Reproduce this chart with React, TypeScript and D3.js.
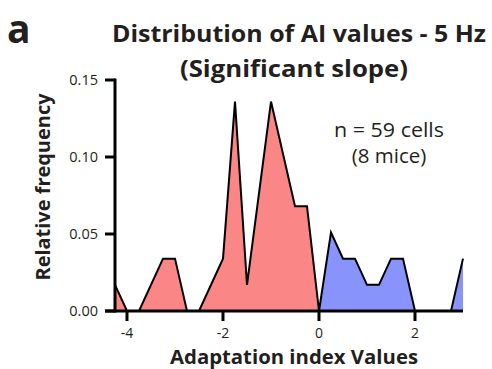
import React from "react";
import * as d3 from "d3";

const redX = [-4.25, -4.0, -3.75, -3.25, -3.0, -2.75, -2.5, -2.0, -1.75, -1.5, -1.0, -0.5, -0.25, 0];
const redY = [0.017, 0, 0, 0.034, 0.034, 0, 0, 0.034, 0.136, 0.017, 0.136, 0.068, 0.068, 0];
const blueX = [0, 0.25, 0.5, 0.75, 1.0, 1.25, 1.5, 1.75, 2.0, 2.75, 3.0];
const blueY = [0, 0.051, 0.034, 0.034, 0.017, 0.017, 0.034, 0.034, 0, 0, 0.034];
const xTicks = [-4, -2, 0, 2];
const yTicks = [0, 0.05, 0.1, 0.15];

const FONT = "'Open Sans', sans-serif";

export default function App() {
  const x = d3.scaleLinear().domain([-4.25, 3]).range([115, 463]);
  const y = d3.scaleLinear().domain([0, 0.15]).range([311, 80]);
  const red = redX.map((v, i) => [v, redY[i]] as [number, number]);
  const blue = blueX.map((v, i) => [v, blueY[i]] as [number, number]);
  const area = d3
    .area<[number, number]>()
    .x((d) => x(d[0]))
    .y0(y(0))
    .y1((d) => y(d[1]));
  const line = d3
    .line<[number, number]>()
    .x((d) => x(d[0]))
    .y((d) => y(d[1]));
  const all = red.concat(blue.slice(1));
  return (
    <svg width={492} height={369} style={{ position: "absolute", left: 0, top: 0, background: "#fff" }} fontFamily={FONT}>
      <text x={7} y={43} fontSize={39} fontWeight={700} fill="#231f20">a</text>
      <text x={299} y={42} fontSize={23.5} fontWeight={700} textAnchor="middle" fill="#231f20" textLength={374} lengthAdjust="spacingAndGlyphs">
        Distribution of AI values - 5 Hz
      </text>
      <text x={294} y={76.5} fontSize={23.5} fontWeight={700} textAnchor="middle" fill="#231f20" textLength={228} lengthAdjust="spacingAndGlyphs">
        (Significant slope)
      </text>
      <path d={area(red) || ""} fill="#fa8686" />
      <path d={area(blue) || ""} fill="#8894fc" />
      <path d={line(all) || ""} fill="none" stroke="#000" strokeWidth={2} strokeLinejoin="miter" />
      {/* y axis */}
      <line x1={115} x2={115} y1={y(0.15) - 1.5} y2={y(0) + 1.5} stroke="#000" strokeWidth={3} />
      {yTicks.map((t) => (
        <g key={t}>
          <line x1={105} x2={115} y1={y(t)} y2={y(t)} stroke="#000" strokeWidth={3} />
          <text x={98} y={y(t) + 5} fontSize={14.5} textAnchor="end" fill="#231f20">
            {t.toFixed(2)}
          </text>
        </g>
      ))}
      {/* x axis */}
      <line x1={105} x2={463} y1={y(0)} y2={y(0)} stroke="#000" strokeWidth={3} />
      {xTicks.map((t) => (
        <g key={t}>
          <line x1={x(t)} x2={x(t)} y1={y(0)} y2={y(0) + 10} stroke="#000" strokeWidth={3} />
          <text x={x(t)} y={338} fontSize={14} textAnchor="middle" fill="#231f20">
            {t}
          </text>
        </g>
      ))}
      <text x={294} y={364} fontSize={20} fontWeight={700} textAnchor="middle" fill="#231f20" textLength={248} lengthAdjust="spacingAndGlyphs">
        Adaptation index Values
      </text>
      <text
        transform={`translate(50,187) rotate(-90)`}
        fontSize={19.5}
        fontWeight={700}
        textAnchor="middle"
        fill="#231f20"
        textLength={187}
        lengthAdjust="spacingAndGlyphs"
      >
        Relative frequency
      </text>
      <text x={389} y={137} fontSize={20.5} textAnchor="middle" fill="#231f20" textLength={110} lengthAdjust="spacingAndGlyphs">
        n = 59 cells
      </text>
      <text x={389} y={163} fontSize={20.5} textAnchor="middle" fill="#231f20">
        (8 mice)
      </text>
    </svg>
  );
}
